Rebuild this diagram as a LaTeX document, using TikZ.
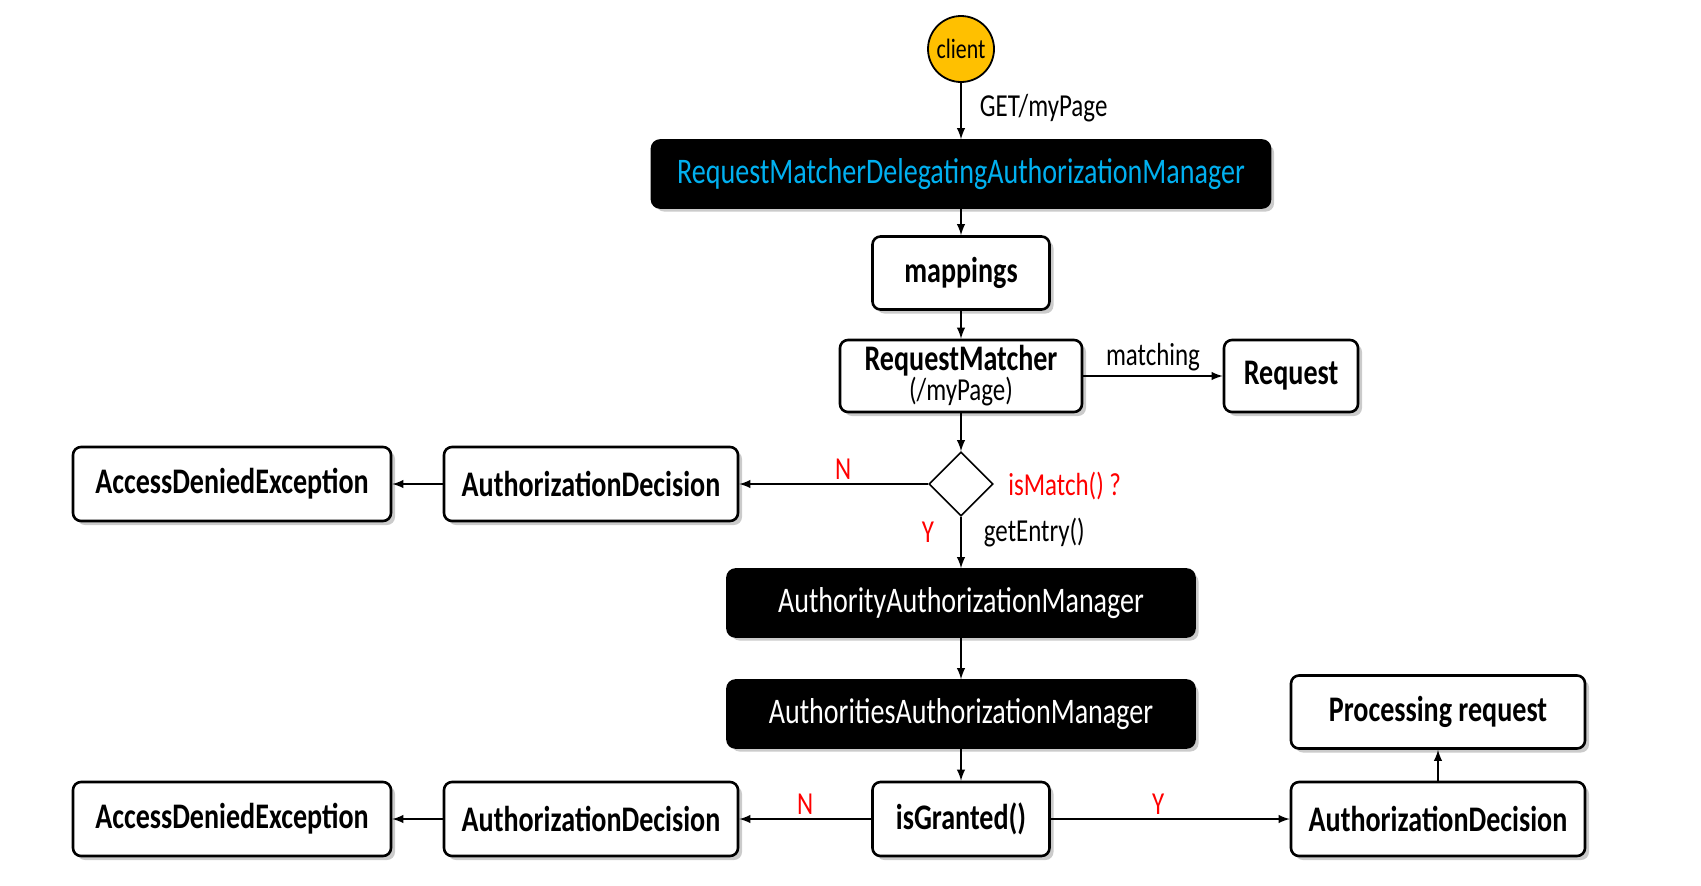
\documentclass[tikz,border=0pt]{standalone}
\usepackage{fontspec}
\setmainfont{Carlito}[FakeStretch=0.78]
\usetikzlibrary{shapes.geometric}
\usetikzlibrary{shadows}
\definecolor{clientfill}{RGB}{255,192,0}
\definecolor{mgrtext}{RGB}{0,176,240}
\definecolor{flagred}{RGB}{255,0,0}
\tikzset{
  box/.style={draw,line width=1.3pt,rounded corners=4pt,fill=white,inner sep=0pt,
    align=center,font=\fontsize{18}{20}\selectfont\bfseries,
    drop shadow={shadow xshift=2pt,shadow yshift=-2pt,fill=black!45,opacity=0.45}},
  darkbox/.style={box,fill=black,text=white,font=\fontsize{18}{20}\selectfont},
  decision/.style={diamond,draw,line width=0.8pt,fill=white,inner sep=0pt,
    minimum width=32pt,minimum height=32pt},
  lbl/.style={font=\fontsize{16}{18}\selectfont,inner sep=2pt},
  yn/.style={lbl,text=flagred},
  link/.style={->,line width=0.9pt}
}
\begin{document}
\begin{tikzpicture}[x=0.5pt,y=-0.5pt,>=latex]
        \useasboundingbox (0,0) rectangle (1701,885);
        % client and the delegating manager
        \node[circle,draw,line width=0.9pt,fill=clientfill,minimum size=33pt,inner sep=0pt,
              font=\fontsize{14}{16}\selectfont] (client) at (961,49) {client};
        \node[darkbox,text=mgrtext,minimum width=309pt,minimum height=33.5pt] (delegating) at (961,174)
              {RequestMatcherDelegatingAuthorizationManager};
        \node[box,minimum width=88.5pt,minimum height=36.5pt] (mappings) at (961,273) {mappings};
        \node[box,minimum width=121pt,minimum height=36pt] (matcher) at (961,376)
              {RequestMatcher\\[-5pt]{\mdseries\fontsize{16}{16}\selectfont (/myPage)}};
        \node[box,minimum width=67pt,minimum height=36pt] (request) at (1291,376) {Request};
        \node[decision] (ismatch) at (961,484) {};
        % first denial branch
        \node[box,minimum width=147pt,minimum height=37pt] (decisionA) at (591,484) {AuthorizationDecision};
        \node[box,minimum width=159pt,minimum height=37pt] (deniedA) at (232,484) {AccessDeniedException};
        % authority managers
        \node[darkbox,minimum width=233.5pt,minimum height=33.5pt] (authority) at (961,603)
              {AuthorityAuthorizationManager};
        \node[darkbox,minimum width=233.5pt,minimum height=33.5pt] (authorities) at (961,714)
              {AuthoritiesAuthorizationManager};
        \node[box,minimum width=88.5pt,minimum height=37pt] (granted) at (961,819) {isGranted()};
        % second denial branch and grant branch
        \node[box,minimum width=147pt,minimum height=37pt] (decisionB) at (591,819) {AuthorizationDecision};
        \node[box,minimum width=159pt,minimum height=37pt] (deniedB) at (232,819) {AccessDeniedException};
        \node[box,minimum width=147pt,minimum height=37pt] (decisionC) at (1438,819) {AuthorizationDecision};
        \node[box,minimum width=147pt,minimum height=36.5pt] (process) at (1438,712) {Processing request};
        % connectors
        \draw[link] (client) -- node[lbl,right,pos=0.45,xshift=7pt] {GET/myPage} (delegating);
        \draw[link] (delegating) -- (mappings);
        \draw[link] (mappings) -- (matcher);
        \draw[link] (matcher) -- node[lbl,above] {matching} (request);
        \draw[link] (matcher) -- (ismatch);
        \draw[link] (ismatch) -- node[yn,above,pos=0.45] {N} (decisionA);
        \node[yn,right] (ismatchlbl) at (1004,486) {isMatch() ?};
        \draw[link] (decisionA) -- (deniedA);
        \draw[link] (ismatch) -- node[yn,left,pos=0.3,xshift=-11pt] {Y}
              node[lbl,right,pos=0.3,xshift=9pt] {getEntry()} (authority);
        \draw[link] (authority) -- (authorities);
        \draw[link] (authorities) -- (granted);
        \draw[link] (granted) -- node[yn,above] {N} (decisionB);
        \draw[link] (decisionB) -- (deniedB);
        \draw[link] (granted) -- node[yn,above,pos=0.45] {Y} (decisionC);
        \draw[link] (decisionC) -- (process);
\end{tikzpicture}
\end{document}
